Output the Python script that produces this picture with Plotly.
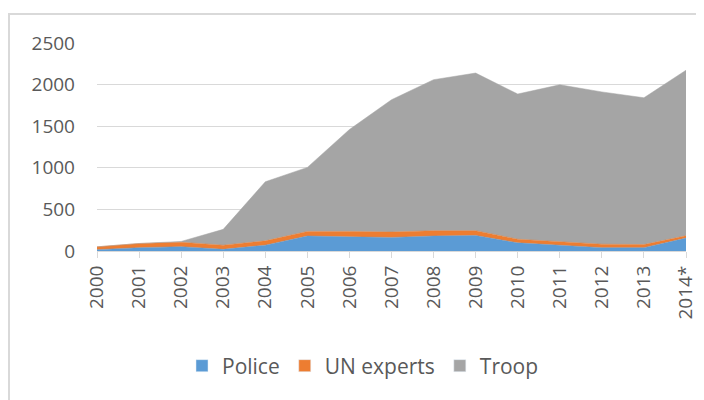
import plotly.graph_objects as go

years = [2000, 2001, 2002, 2003, 2004, 2005, 2006, 2007, 2008, 2009, 2010, 2011, 2012, 2013, 2014]
year_labels = ["2000", "2001", "2002", "2003", "2004", "2005", "2006", "2007",
               "2008", "2009", "2010", "2011", "2012", "2013", "2014*"]
police = [16, 40, 52, 20, 70, 180, 170, 163, 180, 187, 98, 65, 40, 40, 155]
un_experts = [34, 50, 53, 50, 52, 55, 65, 65, 64, 57, 44, 48, 42, 37, 28]
troop = [0, 0, 10, 190, 710, 770, 1225, 1590, 1815, 1895, 1745, 1885, 1830, 1765, 1990]

series = [("Police", police, "#5B9BD5"),
          ("UN experts", un_experts, "#ED7D31"),
          ("Troop", troop, "#A5A5A5")]

fig = go.Figure()
for name, vals, col in series:
    fig.add_trace(go.Scatter(x=years, y=vals, name=name, stackgroup="one",
                             mode="lines", line=dict(width=0.5, color=col),
                             fillcolor=col, showlegend=False))
# legend-only entries (square swatches)
for name, vals, col in series:
    fig.add_trace(go.Bar(x=[None], y=[None], name=name, marker_color=col,
                         showlegend=True))

FONT = "Open Sans"
OFF = 8  # page body margin
W, H = 696, 392
L, R, T, B = 97 - OFF, 686 - OFF, 43 - OFF, 251 - OFF
pw, ph = R - L, B - T

fig.update_layout(
    width=W, height=H,
    margin=dict(l=L, r=W - R, t=T, b=H - B, autoexpand=False),
    paper_bgcolor="white", plot_bgcolor="white",
    font=dict(family=FONT, size=19, color="#595959"),
    showlegend=True, barmode="overlay",
    legend=dict(orientation="h", x=(182 - OFF - L) / pw, xanchor="left",
                y=(B - (366 - OFF)) / ph, yanchor="middle",
                font=dict(size=21, color="#595959"), traceorder="normal"),
    xaxis=dict(range=[2000, 2014], tickvals=years, ticktext=year_labels,
               tickangle=-90, showgrid=False, showline=True, linecolor="#D9D9D9",
               ticks="outside", ticklen=6, tickcolor="#D9D9D9", zeroline=False,
               tickfont=dict(size=19, color="#595959")),
    yaxis=dict(range=[0, 2500], tickvals=[0, 500, 1000, 1500, 2000, 2500],
               showgrid=True, gridcolor="#D9D9D9", zeroline=False, showline=False,
               ticks="", ticklabelstandoff=21,
               tickfont=dict(size=19, color="#595959")),
    shapes=[dict(type="rect", xref="paper", yref="paper",
                 x0=(8 - OFF + 1 - L) / pw, x1=(780 - L) / pw,
                 y0=(B - 480) / ph, y1=(B - (14 - OFF)) / ph,
                 line=dict(color="#D9D9D9", width=2), fillcolor="rgba(0,0,0,0)",
                 layer="below")],
)

fig.write_html("out.html")
